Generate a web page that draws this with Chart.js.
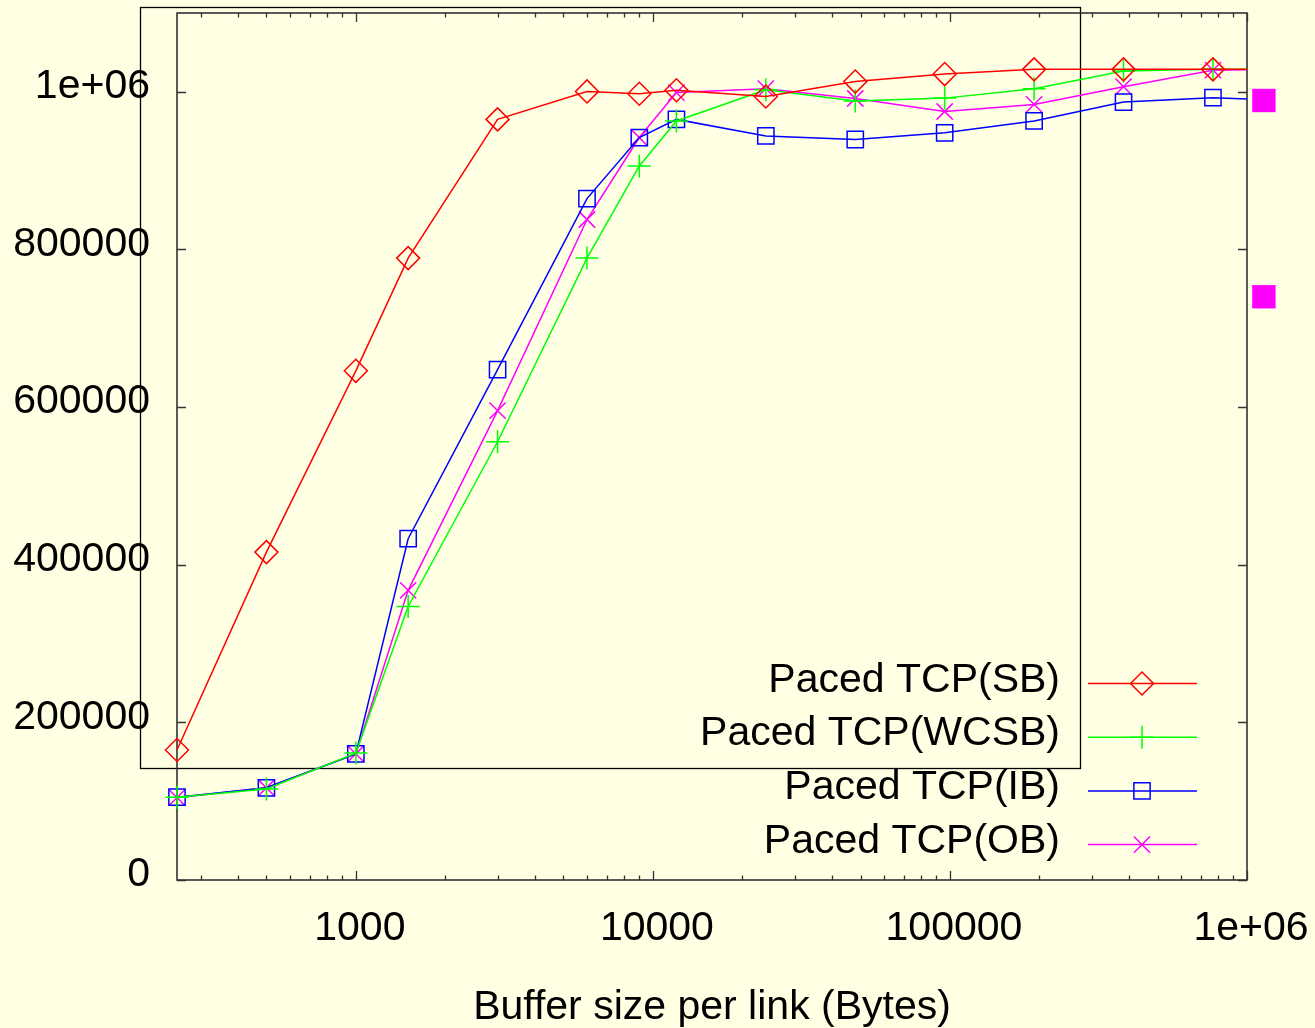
<!DOCTYPE html>
<html>
<head>
<meta charset="utf-8">
<script src="https://cdn.jsdelivr.net/npm/chart.js@4.4.0/dist/chart.umd.min.js"></script>
<style>
  html, body { margin: 0; padding: 0; background: #ffffe4; }
  canvas { display: block; }
</style>
</head>
<body>
<canvas id="myChart" width="1315" height="1028"></canvas>
<script>
// 數據
const bufferSizes = [250, 500, 1000, 1500, 3000, 6000, 9000, 12000, 24000, 48000, 96000, 192000, 384000, 768000, 1536000];
const pacedSB   = [165000, 416000, 646000, 789000, 965000, 1000500, 997500, 1002000, 994000, 1013000, 1022500, 1028500, 1028500, 1028500, 1028500];
const pacedWCSB = [105000, 115500, 161000, 347000, 556000, 789000, 906000, 963000, 1002500, 988500, 992000, 1004000, 1026500, 1028500, 1028500];
const pacedIB   = [105000, 117000, 160000, 433000, 647500, 864500, 942000, 965000, 944000, 939500, 948000, 963000, 987000, 992500, 988000];
const pacedOB   = [104500, 117000, 160000, 367500, 595500, 838000, 942000, 999000, 1004000, 991500, 975000, 984000, 1006500, 1027500, 1029000];
const seriesLabels = ["Paced TCP(SB)", "Paced TCP(WCSB)", "Paced TCP(IB)", "Paced TCP(OB)"];

// 右側兩個洋紅色方塊 (在 x 軸範圍外)
const strayX = [1140000, 1140000];
const strayY = [989000, 740000];

const xTickValues = [1000, 10000, 100000, 1000000];
const yTickValues = [0, 200000, 400000, 600000, 800000, 1000000];
const xTitle = "Buffer size per link (Bytes)";

// 樣式
const FONT = '"Liberation Sans", Arial, Helvetica, sans-serif';
const bgColor = "#ffffe4";
const axisColor = "#333333";
const seriesColors = ["#ff0000", "#00ff00", "#0000ff", "#ff00ff"];
const seriesStyles = ["rectRot", "cross", "rect", "crossRot"];
const seriesValues = [pacedSB, pacedWCSB, pacedIB, pacedOB];

// gnuplot 的 %g 格式
function gnuplotFmt(v) {
  if (Math.abs(v) >= 1e6) {
    const parts = v.toExponential().split("e");
    return parts[0] + "e" + parts[1][0] + parts[1].slice(1).padStart(2, "0");
  }
  return String(v);
}

// 背景、外框、刻度、圖例
const gnuplotFrame = {
  id: "gnuplotFrame",
  beforeDraw(chart) {
    const ctx = chart.ctx;
    ctx.save();
    ctx.fillStyle = bgColor;
    ctx.fillRect(0, 0, chart.width, chart.height);
    ctx.restore();
  },
  beforeDatasetsDraw(chart) {
    const { ctx, chartArea: a, scales } = chart;
    ctx.save();
    // 多出來的黑框
    ctx.strokeStyle = "#000";
    ctx.lineWidth = 1.3;
    ctx.strokeRect(140.5, 7.5, 940, 761);

    // 繪圖區邊框
    ctx.strokeStyle = axisColor;
    ctx.lineWidth = 1.6;
    ctx.strokeRect(a.left, a.top, a.right - a.left, a.bottom - a.top);

    // 刻度 (向內, 四邊)
    ctx.lineWidth = 1.3;
    ctx.beginPath();
    const xs = scales.x;
    for (let d = 100; d <= xs.max; d *= 10) {
      for (let k = 1; k < 10; k++) {
        const v = d * k;
        if (v < xs.min || v > xs.max) continue;
        const len = k === 1 ? 9 : 4.5;
        const px = Math.round(xs.getPixelForValue(v)) + 0.5;
        ctx.moveTo(px, a.bottom); ctx.lineTo(px, a.bottom - len);
        ctx.moveTo(px, a.top); ctx.lineTo(px, a.top + len);
      }
    }
    yTickValues.forEach((v) => {
      const py = Math.round(scales.y.getPixelForValue(v)) + 0.5;
      ctx.moveTo(a.left, py); ctx.lineTo(a.left + 9, py);
      ctx.moveTo(a.right, py); ctx.lineTo(a.right - 9, py);
    });
    ctx.stroke();
    ctx.restore();
  },
  afterDatasetsDraw(chart) {
    const { ctx, scales } = chart;
    ctx.save();

    // 洋紅色方塊
    ctx.fillStyle = "#ff00ff";
    strayX.forEach((x, j) => {
      const px = scales.x.getPixelForValue(x);
      const py = scales.y.getPixelForValue(strayY[j]);
      ctx.fillRect(px - 11.7, py - 11.7, 23.4, 23.4);
    });

    // 圖例
    ctx.font = "41px " + FONT;
    ctx.textAlign = "right";
    ctx.textBaseline = "alphabetic";
    seriesLabels.forEach((label, i) => {
      const ly = 683.5 + i * 53.7;
      ctx.fillStyle = "#000";
      ctx.fillText(label, 1060, ly + 8);
      ctx.strokeStyle = seriesColors[i];
      ctx.lineWidth = 1.5;
      ctx.beginPath();
      ctx.moveTo(1088, ly);
      ctx.lineTo(1197, ly);
      ctx.stroke();
      ctx.fillStyle = "rgba(0,0,0,0)";
      Chart.helpers.drawPoint(ctx, { pointStyle: seriesStyles[i], radius: 11.5, rotation: 0, borderWidth: 1.5 }, 1142, ly);
    });
    ctx.restore();
  },
};

const datasets = seriesValues.map((vals, i) => ({
  label: seriesLabels[i],
  data: bufferSizes.map((x, j) => ({ x: x, y: vals[j] })),
  borderColor: seriesColors[i],
  backgroundColor: "rgba(0,0,0,0)",
  pointBackgroundColor: "rgba(0,0,0,0)",
  pointBorderColor: seriesColors[i],
  pointStyle: seriesStyles[i],
  pointRadius: 11.5,
  pointHoverRadius: 11.5,
  pointBorderWidth: 1.5,
  borderWidth: 1.5,
  tension: 0,
  clip: { left: false, top: false, right: 0, bottom: false },
}));

const tickFont = { family: FONT, size: 41 };

const chart = new Chart(document.getElementById("myChart").getContext("2d"), {
  type: "line",
  data: { datasets: datasets },
  plugins: [gnuplotFrame],
  options: {
    responsive: false,
    animation: false,
    events: [],
    layout: { autoPadding: false, padding: { left: 0, right: 68, top: 13, bottom: 0 } },
    plugins: {
      legend: { display: false },
      tooltip: { enabled: false },
    },
    scales: {
      x: {
        type: "logarithmic",
        position: "bottom",
        min: 250,
        max: 1000000,
        grid: { display: false, drawTicks: false },
        border: { display: false },
        afterBuildTicks: (s) => { s.ticks = xTickValues.map((v) => ({ value: v })); },
        afterFit: (s) => { s.height = 148; s.paddingLeft = 0; s.paddingRight = 0; },
        ticks: {
          color: "#000",
          font: tickFont,
          padding: 24,
          labelOffset: 4,
          maxRotation: 0,
          autoSkip: false,
          callback: (v) => gnuplotFmt(v),
        },
        title: {
          display: true,
          text: xTitle,
          color: "#000",
          font: { family: FONT, size: 41, lineHeight: 1.0 },
          padding: { top: 0, bottom: 0 },
        },
      },
      y: {
        type: "linear",
        min: 0,
        max: 1100000,
        grid: { display: false, drawTicks: false },
        border: { display: false },
        afterBuildTicks: (s) => { s.ticks = yTickValues.map((v) => ({ value: v })); },
        afterFit: (s) => { s.width = 177; s.paddingTop = 0; s.paddingBottom = 0; },
        ticks: {
          color: "#000",
          font: tickFont,
          padding: 27,
          labelOffset: -5,
          callback: (v) => gnuplotFmt(v),
        },
      },
    },
  },
});
</script>
</body>
</html>
